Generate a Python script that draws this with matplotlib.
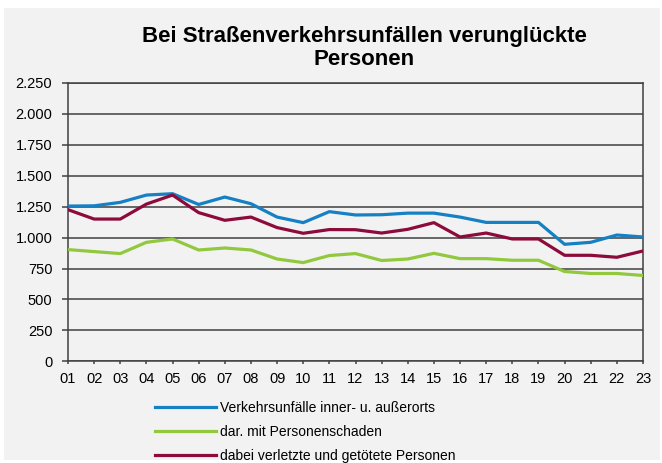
import matplotlib.pyplot as plt
from matplotlib.patches import Rectangle

plt.rcParams['font.family'] = ['Liberation Sans', 'DejaVu Sans']

years = ['01', '02', '03', '04', '05', '06', '07', '08', '09', '10', '11', '12',
         '13', '14', '15', '16', '17', '18', '19', '20', '21', '22', '23']
unfaelle = [1255, 1257, 1285, 1344, 1355, 1268, 1328, 1274, 1166, 1121, 1210, 1183,
            1185, 1198, 1198, 1166, 1123, 1123, 1123, 946, 962, 1021, 1005]
personenschaden = [903, 887, 871, 962, 989, 900, 916, 900, 827, 798, 855, 871,
                   815, 827, 873, 830, 830, 817, 817, 726, 710, 710, 694]
verunglueckte = [1226, 1150, 1150, 1271, 1344, 1202, 1140, 1166, 1081, 1035, 1065, 1064,
                 1037, 1067, 1121, 1005, 1037, 989, 989, 857, 857, 841, 892]

labels = ['Verkehrsunfälle inner- u. außerorts', 'dar. mit Personenschaden',
          'dabei verletzte und getötete Personen']
colors = ['#1580c4', '#92c83e', '#8c0b3b']
bg = '#f2f2f2'

fig = plt.figure(figsize=(6.62, 4.63), dpi=100, facecolor='white')
fig.patches.append(Rectangle((4 / 662, 1 - 460 / 463), 656 / 662, 452 / 463,
                             transform=fig.transFigure, facecolor=bg,
                             edgecolor='none', zorder=-1))
ax = fig.add_axes([68 / 662, 1 - 361.3 / 463, 575 / 662, 278.3 / 463])
ax.set_facecolor(bg)

x = range(len(years))
for vals, lab, col in zip([unfaelle, personenschaden, verunglueckte], labels, colors):
    ax.plot(x, vals, color=col, lw=2.3, label=lab, zorder=3)

ax.set_xlim(0, len(years) - 1)
ax.set_ylim(0, 2250)
ax.set_yticks(range(0, 2251, 250))
ax.set_yticklabels([f'{v:,}'.replace(',', '.') for v in range(0, 2251, 250)])
ax.set_xticks(list(x))
ax.set_xticklabels(years)
ax.grid(axis='y', color='#404040', lw=1.1)
ax.set_axisbelow(True)
for s in ['left', 'bottom', 'right', 'top']:
    ax.spines[s].set_color('#404040')
    ax.spines[s].set_linewidth(1.1)
ax.tick_params(colors='#404040', labelcolor='black', labelsize=10.5, width=1.1)
ax.tick_params(axis='y', length=4.3, pad=7)
ax.tick_params(axis='x', length=2, pad=6)

fig.text(364 / 662, 1 - 48 / 463, 'Bei Straßenverkehrsunfällen verunglückte\nPersonen',
         ha='center', va='center', fontsize=16, fontweight='bold', linespacing=1.15)

fig.legend(loc='upper left', bbox_to_anchor=(155 / 662, 1 - 401 / 463), frameon=False,
           fontsize=10, handlelength=4.4, handletextpad=0.3, labelspacing=0.72,
           borderaxespad=0, borderpad=0)

fig.savefig('out.png', dpi=100, facecolor='white')
